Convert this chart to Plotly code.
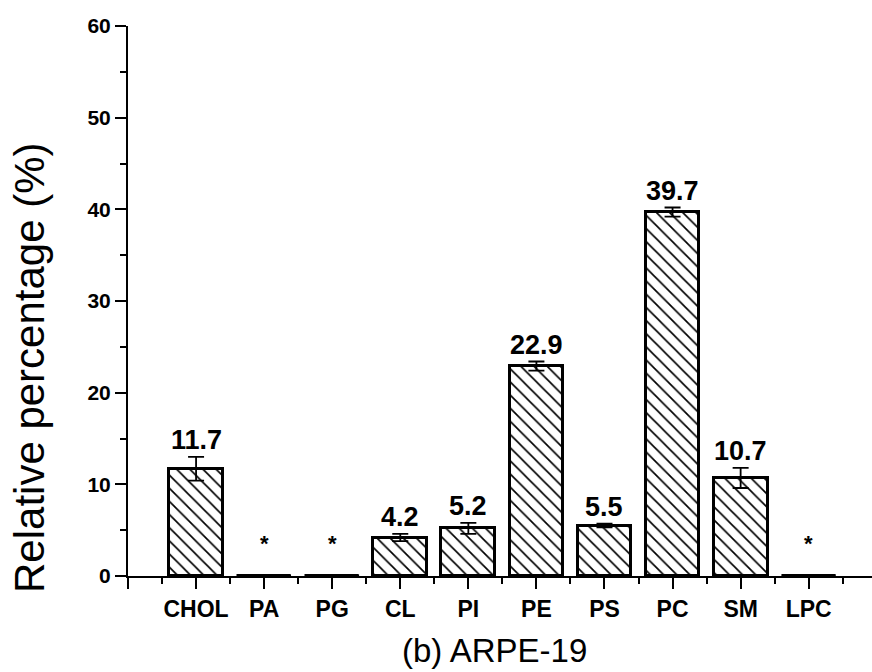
import plotly.graph_objects as go

categories = ["CHOL", "PA", "PG", "CL", "PI", "PE", "PS", "PC", "SM", "LPC"]
values = [11.7, 0.0, 0.0, 4.2, 5.2, 22.9, 5.5, 39.7, 10.7, 0.0]
errors = [1.3, 0.0, 0.0, 0.4, 0.6, 0.5, 0.2, 0.5, 1.1, 0.0]
labels = ["11.7", "*", "*", "4.2", "5.2", "22.9", "5.5", "39.7", "10.7", "*"]

xpos = list(range(len(categories)))
bar_width = 0.79
FONT = "Liberation Sans, Arial, sans-serif"

W, H = 872, 672
ML, MR, MT, MB = 128, 0, 26, 96
plot_w = W - ML - MR
plot_h = H - MT - MB

fig = go.Figure()
fig.add_trace(go.Bar(
    x=xpos, y=values, width=bar_width,
    marker=dict(color="white", line=dict(color="black", width=3),
                pattern=dict(shape="\\", fgcolor="black", bgcolor="white", size=9.3,
                             solidity=0.18, fgopacity=1)),
    error_y=dict(type="data", array=errors, visible=True, color="black", thickness=1.8, width=8),
    showlegend=False, hoverinfo="skip",
))

# zero-value bars drawn as base lines
for i, v in enumerate(values):
    if v == 0:
        fig.add_shape(type="line", xref="x", yref="y",
                      x0=i - bar_width / 2, x1=i + bar_width / 2, y0=0, y1=0,
                      line=dict(color="black", width=3))

annotations = []
for i, (v, e, t) in enumerate(zip(values, errors, labels)):
    annotations.append(dict(
        x=i, y=v + e, xref="x", yref="y", text=t, showarrow=False,
        xanchor="center", yanchor="bottom", yshift=(18 if t == "*" else 0),
        font=dict(family=FONT, size=(22 if t == "*" else 27), color="black", weight="bold"),
    ))

annotations.append(dict(
    text="Relative percentage (%)", textangle=-90,
    x=(29 - ML) / plot_w, y=(H - MB - 368) / plot_h,
    xref="paper", yref="paper", showarrow=False, xanchor="center", yanchor="middle",
    font=dict(family=FONT, size=42, color="black")))
annotations.append(dict(
    text="(b) ARPE-19", x=(494 - ML) / plot_w, y=(H - MB - 650) / plot_h,
    xref="paper", yref="paper", showarrow=False, xanchor="center", yanchor="middle",
    font=dict(family=FONT, size=33, color="black")))

fig.update_layout(
    width=W, height=H,
    margin=dict(l=ML, r=MR, t=MT, b=MB),
    plot_bgcolor="white", paper_bgcolor="white",
    bargap=0,
    xaxis=dict(
        range=[-1.0, 9.93], showgrid=False, zeroline=False,
        showline=True, linecolor="black", linewidth=2,
        tickmode="array", tickvals=[-1] + xpos, ticktext=[""] + categories,
        ticks="outside", ticklen=11, tickwidth=2, tickcolor="black",
        tickfont=dict(family=FONT, size=23, color="black", weight="bold"),
        minor=dict(tickvals=[x - 0.5 for x in range(0, 11)], ticks="outside",
                   ticklen=6, tickwidth=2, tickcolor="black"),
    ),
    yaxis=dict(
        range=[0, 60], showgrid=False, zeroline=False,
        showline=True, linecolor="black", linewidth=2,
        tickmode="array", tickvals=[0, 10, 20, 30, 40, 50, 60],
        ticks="outside", ticklen=11, tickwidth=2, tickcolor="black",
        tickfont=dict(family=FONT, size=21, color="black", weight="bold"),
        minor=dict(tickvals=[5, 15, 25, 35, 45, 55], ticks="outside",
                   ticklen=6, tickwidth=2, tickcolor="black"),
    ),
    annotations=annotations,
)

fig.write_html(
    "out.html",
    config={"displayModeBar": False},
    post_script="document.body.style.margin='0';document.body.style.overflow='hidden';",
)
